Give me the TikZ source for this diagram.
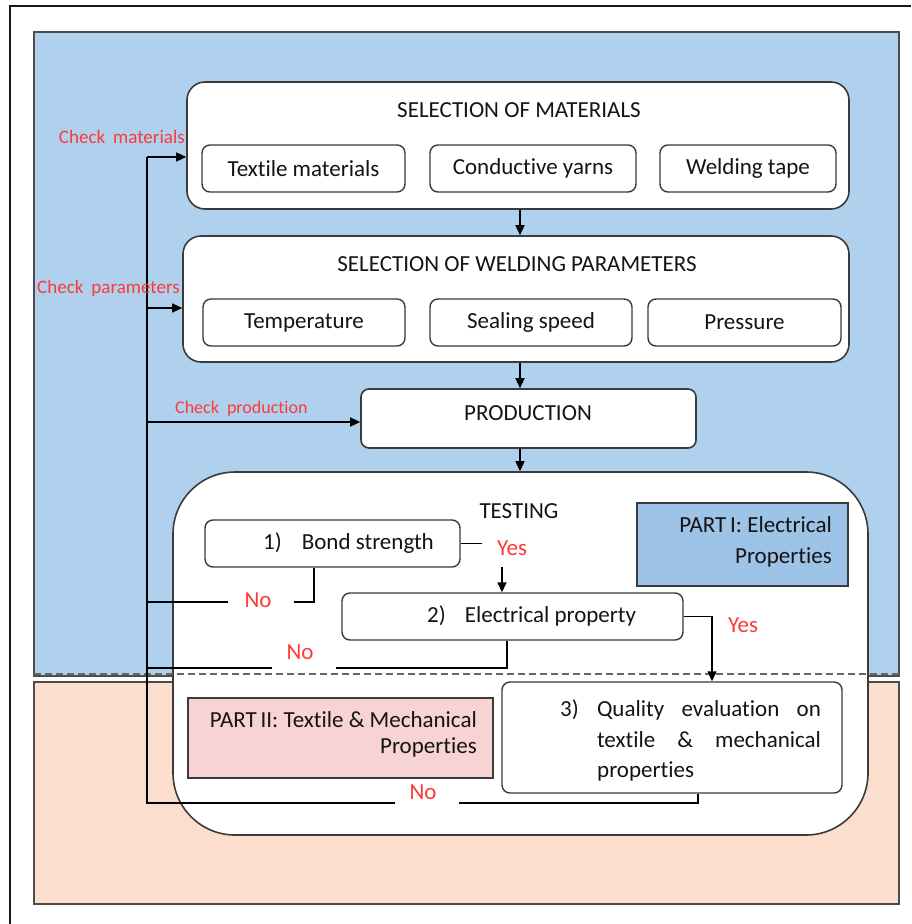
\documentclass[tikz,border=0pt]{standalone}
\usepackage{fontspec}
\setmainfont[Ligatures=NoCommon]{Carlito}
\usetikzlibrary{arrows.meta,calc}
\definecolor{bgblue}{HTML}{AFD1ED}
\definecolor{bgpeach}{HTML}{FBDECE}
\definecolor{partone}{HTML}{9DC3E6}
\definecolor{parttwo}{HTML}{F8D3D3}
\definecolor{redtxt}{HTML}{FF3838}
\definecolor{boxline}{HTML}{3A3A3A}
\definecolor{txt}{HTML}{141414}
\tikzset{
  bigbox/.style={draw=boxline, line width=1.6pt, fill=white, rounded corners=18pt, inner sep=0pt},
  subbox/.style={draw=boxline, line width=1.4pt, fill=white, rounded corners=8pt, inner sep=0pt, text=txt, font=\fontsize{23}{27}\selectfont},
  title/.style={text=txt, font=\fontsize{23}{27}\selectfont, inner sep=0pt},
  boxtext/.style={text=txt, font=\fontsize{23}{27}\selectfont, inner sep=0pt},
  partbox/.style={draw=boxline, line width=1.6pt, inner sep=0pt},
  chk/.style={text=redtxt, font=\fontsize{19}{22}\selectfont, inner sep=0pt},
  yn/.style={text=redtxt, font=\fontsize{23}{27}\selectfont, inner sep=0pt},
  ln/.style={draw=black, line width=1.4pt},
  arr/.style={ln, -{Triangle[length=10pt,width=9pt]}},
}
\begin{document}
\begin{tikzpicture}[x=1pt,y=-1pt]
\useasboundingbox (0,0) rectangle (911,924);
% frame lines
\draw[line width=2pt, black!90] (10,924) -- (10,6) -- (911,6);
% backgrounds
\draw[fill=bgblue, draw=black!70, line width=1.2pt] (34,32) rectangle (899,676);
\draw[fill=bgpeach, draw=black!70, line width=1.2pt] (34,682) rectangle (899,904);
% big boxes
\node[bigbox, minimum width=662pt, minimum height=127pt] (mat) at (518,145.5) {};
\node[title] (matt) at (519,110) {SELECTION OF MATERIALS};
\node[subbox, minimum width=203pt, minimum height=47pt] (tex) at (303.5,168.5) {Textile materials};
\node[subbox, minimum width=206pt, minimum height=47pt] (con) at (533,168.5) {Conductive yarns};
\node[subbox, minimum width=176pt, minimum height=47pt] (wel) at (748,168.5) {Welding tape};

\node[bigbox, minimum width=666pt, minimum height=126pt] (par) at (516,299) {};
\node[title] (part) at (517,264) {SELECTION OF WELDING PARAMETERS};
\node[subbox, minimum width=202pt, minimum height=47pt] (tem) at (304,322.5) {Temperature};
\node[subbox, minimum width=202pt, minimum height=47pt] (sea) at (531,322.5) {Sealing speed};
\node[subbox, minimum width=193pt, minimum height=47pt] (pre) at (744.5,322.5) {Pressure};

\node[bigbox, rounded corners=8pt, minimum width=335pt, minimum height=59pt] (prod) at (528.5,418.5) {};
\node[title] (prodt) at (528,413) {PRODUCTION};

\node[bigbox, rounded corners=62pt, minimum width=695pt, minimum height=363pt] (test) at (520.5,653.5) {};
\node[title] (testt) at (519,511) {TESTING};

% dashed separator
\draw[dash pattern=on 7pt off 4pt, draw=black!60, line width=1.6pt] (34,674) coordinate (dl) -- (899,674) coordinate (dr);

\node[subbox, minimum width=255pt, minimum height=47pt] (bond) at (332.5,543.5) {};
\node[boxtext, anchor=west] (bondt) at (263,543) {1)\hspace{20pt}Bond strength};
\node[subbox, minimum width=341pt, minimum height=47pt] (elec) at (512.5,616.5) {};
\node[boxtext, anchor=west] (elect) at (427,616) {2)\hspace{19pt}Electrical property};
\node[subbox, minimum width=340pt, minimum height=111pt] (qual) at (672,737.5) {};
\node[boxtext, anchor=west] (q3) at (560,710) {3)};
\node[boxtext] (q1) at (709,710) {\makebox[224pt][s]{Quality evaluation on}};
\node[boxtext] (q2) at (709,740) {\makebox[224pt][s]{textile \& mechanical}};
\node[boxtext, anchor=west] (q4) at (597,771) {properties};

\node[partbox, fill=partone, minimum width=211pt, minimum height=83pt] (p1) at (742.5,544.5) {};
\node[boxtext, anchor=east] (p1a) at (832,525) {PART\,I: Electrical};
\node[boxtext, anchor=east] (p1b) at (832,557) {Properties};
\node[partbox, fill=parttwo, minimum width=305pt, minimum height=80pt] (p2) at (340.5,738) {};
\node[boxtext, anchor=east] (p2a) at (477,720) {PART\,II: Textile \& Mechanical};
\node[boxtext, anchor=east] (p2b) at (477,747) {Properties};

% main flow arrows
\coordinate (ax) at (520,0);
\draw[arr] (mat.south -| ax) -- (par.north -| ax);
\draw[arr] (par.south -| ax) -- (prod.north -| ax);
\draw[arr] (prod.south -| ax) -- (test.north -| ax);

% bond strength yes
\coordinate (byes) at (482,543.5);
\draw[ln] (bond.east) -- (byes);
\node[yn] (yes1) at (512,548) {Yes};
\coordinate (byes2) at (502,567);
\draw[arr] (byes2) -- (elec.north -| byes2);

% electrical yes
\coordinate (eyes) at (712,616.5);
\draw[arr] (elec.east) -- (eyes) -- (qual.north -| eyes);
\node[yn] (yes2) at (743,625) {Yes};

% feedback
\coordinate (fbtop) at (147,157);
\coordinate (fbbot) at (147,803);
% bond no
\coordinate (bn1) at (314,602);
\coordinate (bn2) at (294,602);
\coordinate (bn3) at (228,602);
\draw[ln] (bond.south -| bn1) -- (bn1) -- (bn2);
\node[yn] (no1) at (258,600) {No};
\draw[ln] (bn3) -- (bn3 -| fbbot);
% electrical no
\coordinate (en1) at (507,668);
\coordinate (en2) at (336,668);
\coordinate (en3) at (272,668);
\draw[ln] (elec.south -| en1) -- (en1) -- (en2);
\node[yn] (no2) at (300,652) {No};
\draw[ln] (en3) -- (en3 -| fbbot);
% quality no
\coordinate (qn1) at (698,803);
\coordinate (qn2) at (459,803);
\coordinate (qn3) at (395,803);
\draw[ln] (qual.south -| qn1) -- (qn1) -- (qn2);
\node[yn] (no3) at (423,792) {No};
\draw[ln] (qn3) -- (fbbot) -- (fbtop);
\draw[arr] (fbtop) -- (mat.west |- fbtop);
\coordinate (fbpar) at (147,308);
\draw[arr] (fbpar) -- (par.west |- fbpar);
\coordinate (fbprod) at (147,422);
\draw[arr] (fbprod) -- (prod.west |- fbprod);

\node[chk, anchor=east] (cm) at (185,137) {Check\hspace{8pt}materials};
\node[chk, anchor=west] (cp) at (37,288) {Check\hspace{8pt}parameters};
\node[chk, anchor=west, font=\fontsize{18}{21}\selectfont] (cpr) at (175,409) {Check\hspace{8pt}production};
\end{tikzpicture}
\end{document}
